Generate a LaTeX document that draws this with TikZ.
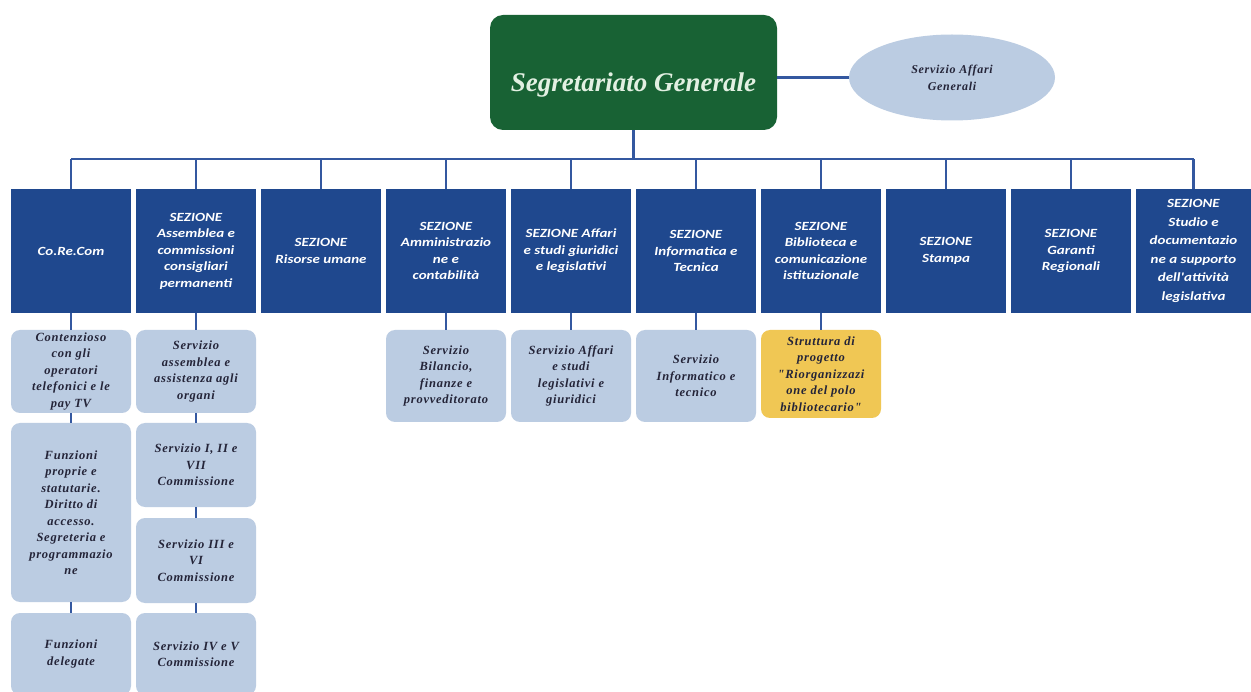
\documentclass[tikz,border=0pt]{standalone}
\usepackage{fontspec}
\usetikzlibrary{shapes.geometric}

\newfontfamily\secfont[FakeStretch=1.2]{Carlito}
\newfontfamily\servfont[LetterSpace=6]{Liberation Serif}
\newfontfamily\titlefont{Liberation Serif}

\definecolor{secblue}{RGB}{31,72,142}
\definecolor{lineblue}{RGB}{52,88,160}
\definecolor{sggreen}{RGB}{24,98,52}
\definecolor{servblue}{RGB}{187,204,226}
\definecolor{projyellow}{RGB}{240,199,84}
\definecolor{servtext}{RGB}{36,36,56}

\tikzset{
  secbox/.style={fill=secblue, text=white, minimum width=120pt, minimum height=124pt,
    inner sep=0pt, align=center, font=\secfont\bfseries\itshape\fontsize{12.5}{16.5}\selectfont},
  servbox/.style={fill=servblue, text=servtext, rounded corners=9pt, minimum width=120pt,
    inner sep=0pt, align=center, font=\servfont\bfseries\itshape\fontsize{12.5}{16.5}\selectfont},
  projbox/.style={servbox, fill=projyellow},
  conn/.style={draw=lineblue, line width=2.4pt},
}

\begin{document}
\begin{tikzpicture}[x=1pt,y=1pt,yscale=-1,xscale=1]
		\useasboundingbox[fill=white] (0,0) rectangle (1251,692);

		% Top: Segretariato Generale and its staff service
		\node [fill=sggreen, rounded corners=13pt, minimum width=287pt, minimum height=115pt, inner sep=0pt,
			text height=44pt, text depth=6pt,
			text={rgb,255:red,226;green,240;blue,226}, font=\titlefont\bfseries\itshape\fontsize{27}{30}\selectfont]
			(sg) at (633.5,72.5) {Segretariato Generale};
		\node [ellipse, fill=servblue, text=servtext, minimum width=206pt, minimum height=86pt, inner sep=0pt,
			align=center, font=\servfont\bfseries\itshape\fontsize{12}{17}\selectfont]
			(sag) at (952,77.5) {Servizio Affari\\Generali};
		\draw[conn] (sag.west) -- (sag.west -| sg.east);

		% Bus line under the Segretariato
		\coordinate (bus) at (633.5,159);

		% Row of the sections
		\node [secbox] (c1) at (71,251) {Co.Re.Com};
		\node [secbox] (c2) at (196,251) {SEZIONE\\Assemblea e\\commissioni\\consigliari\\permanenti};
		\node [secbox] (c3) at (321,251) {SEZIONE\\Risorse umane};
		\node [secbox] (c4) at (446,251) {SEZIONE\\Amministrazio\\ne e\\contabilità};
		\node [secbox] (c5) at (571,251) {SEZIONE Affari\\e studi giuridici\\e legislativi};
		\node [secbox] (c6) at (696,251) {SEZIONE\\Informatica e\\Tecnica};
		\node [secbox] (c7) at (821,251) {SEZIONE\\Biblioteca e\\comunicazione\\istituzionale};
		\node [secbox] (c8) at (946,251) {SEZIONE\\Stampa};
		\node [secbox] (c9) at (1071,251) {SEZIONE\\Garanti\\Regionali};
		\node [secbox, minimum width=115pt, font=\secfont\bfseries\itshape\fontsize{12.5}{18.5}\selectfont]
			(c10) at (1193.5,251) {SEZIONE\\Studio e\\documentazio\\ne a supporto\\dell'attività\\legislativa};

		% Connectors from the Segretariato to the sections
		\draw[conn] (sg.south) -- (bus);
		\draw[conn] (c1.north |- bus) -- (c10.north |- bus);
		\foreach \i in {1,...,10}
			\draw[conn] (c\i.north) -- (c\i.north |- bus);

		% Services under Co.Re.Com
		\node [servbox, minimum height=83pt] (s11) at (71,371.5) {Contenzioso\\con gli\\operatori\\telefonici e le\\pay TV};
		\node [servbox, minimum height=179pt] (s12) at (71,512.5) {Funzioni\\proprie e\\statutarie.\\Diritto di\\accesso.\\Segreteria e\\programmazio\\ne};
		\node [servbox, minimum height=82pt] (s13) at (71,654) {Funzioni\\delegate};

		% Services under the Assemblea section
		\node [servbox, minimum height=83pt] (s21) at (196,371.5) {Servizio\\assemblea e\\assistenza agli\\organi};
		\node [servbox, minimum height=84pt] (s22) at (196,465) {Servizio I, II e\\VII\\Commissione};
		\node [servbox, minimum height=85pt] (s23) at (196,560.5) {Servizio III e\\VI\\Commissione};
		\node [servbox, minimum height=82pt] (s24) at (196,654) {Servizio IV e V\\Commissione};

		% Single services under the other sections
		\node [servbox, minimum height=92pt] (s41) at (446,376) {Servizio\\Bilancio,\\finanze e\\provveditorato};
		\node [servbox, minimum height=92pt] (s51) at (571,376) {Servizio Affari\\e studi\\legislativi e\\giuridici};
		\node [servbox, minimum height=92pt] (s61) at (696,376) {Servizio\\Informatico e\\tecnico};
		\node [projbox, minimum height=88pt] (s71) at (821,374) {Struttura di\\progetto\\"Riorganizzazi\\one del polo\\bibliotecario"};

		% Connectors to the services
		\draw[conn] (c1.south) -- (s11.north);
		\draw[conn] (s11.south) -- (s12.north);
		\draw[conn] (s12.south) -- (s13.north);
		\draw[conn] (c2.south) -- (s21.north);
		\draw[conn] (s21.south) -- (s22.north);
		\draw[conn] (s22.south) -- (s23.north);
		\draw[conn] (s23.south) -- (s24.north);
		\draw[conn] (c4.south) -- (s41.north);
		\draw[conn] (c5.south) -- (s51.north);
		\draw[conn] (c6.south) -- (s61.north);
		\draw[conn] (c7.south) -- (s71.north);
	\end{tikzpicture}
\end{document}
